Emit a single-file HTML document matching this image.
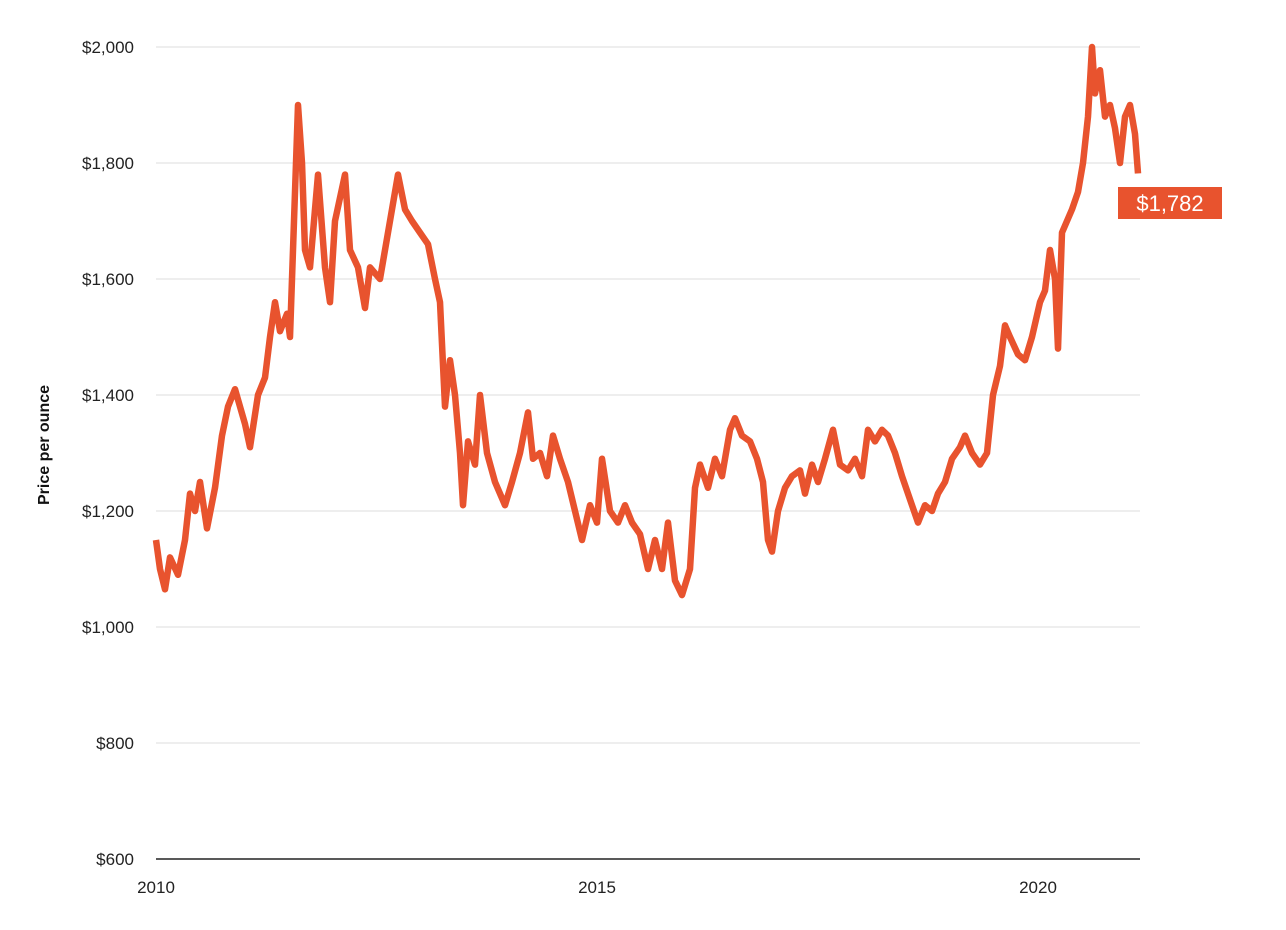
<!DOCTYPE html>
<html><head><meta charset="utf-8"><style>
body{margin:0;background:#fff;}
svg{display:block;font-family:"Liberation Sans",sans-serif;}
</style></head><body>
<svg width="1286" height="930" viewBox="0 0 1286 930">
<g stroke="#dddddd" stroke-width="1">
<line x1="156" x2="1140" y1="47" y2="47"/><line x1="156" x2="1140" y1="163" y2="163"/>
<line x1="156" x2="1140" y1="279" y2="279"/><line x1="156" x2="1140" y1="395" y2="395"/>
<line x1="156" x2="1140" y1="511" y2="511"/><line x1="156" x2="1140" y1="627" y2="627"/>
<line x1="156" x2="1140" y1="743" y2="743"/>
</g>
<line x1="156" x2="1140" y1="859" y2="859" stroke="#222" stroke-width="1.5"/>
<g font-size="17" fill="#222" text-anchor="end">
<text x="134" y="53">$2,000</text><text x="134" y="169">$1,800</text>
<text x="134" y="285">$1,600</text><text x="134" y="401">$1,400</text>
<text x="134" y="517">$1,200</text><text x="134" y="633">$1,000</text>
<text x="134" y="749">$800</text><text x="134" y="865">$600</text>
</g>
<g font-size="17" fill="#222" text-anchor="middle">
<text x="156" y="893">2010</text><text x="597" y="893">2015</text><text x="1038" y="893">2020</text>
</g>
<text transform="translate(49,445) rotate(-90)" font-size="16" font-weight="bold" text-anchor="middle" fill="#111">Price per ounce</text>
<g transform="translate(0,1207) scale(1,-0.58)">
<polyline fill="none" stroke="#e8532e" stroke-width="6.5" stroke-linejoin="round" vector-effect="non-scaling-stroke" points="156,1150 160,1100 165,1065 170,1120 178,1090 185,1150 190,1230 195,1200 200,1250 207,1170 215,1240 222,1330 228,1380 235,1410 245,1350 250,1310 258,1400 265,1430 270,1500 275,1560 280,1510 287,1540 290,1500 294,1700 298,1900 302,1800 305,1650 310,1620 318,1780 325,1620 330,1560 335,1700 345,1780 350,1650 358,1620 365,1550 370,1620 380,1600 390,1700 398,1780 405,1720 412,1700 420,1680 428,1660 435,1600 440,1560 445,1380 450,1460 455,1400 460,1300 463,1210 468,1320 475,1280 480,1400 487,1300 495,1250 505,1210 512,1250 520,1300 528,1370 533,1290 540,1300 547,1260 553,1330 560,1290 568,1250 575,1200 582,1150 590,1210 597,1180 602,1290 610,1200 618,1180 625,1210 632,1180 640,1160 648,1100 655,1150 662,1100 668,1180 675,1080 682,1055 690,1100 695,1240 700,1280 708,1240 715,1290 722,1260 730,1340 735,1360 742,1330 750,1320 757,1290 763,1250 768,1150 772,1130 778,1200 785,1240 792,1260 800,1270 805,1230 812,1280 818,1250 825,1290 833,1340 840,1280 848,1270 855,1290 862,1260 868,1340 875,1320 882,1340 888,1330 895,1300 902,1260 910,1220 918,1180 925,1210 932,1200 938,1230 945,1250 952,1290 960,1310 965,1330 972,1300 980,1280 987,1300 993,1400 1000,1450 1005,1520 1010,1500 1018,1470 1025,1460 1032,1500 1040,1560 1045,1580 1050,1650 1055,1600 1058,1480 1062,1680 1067,1700 1072,1720 1078,1750 1083,1800 1088,1880 1092,2000 1095,1920 1100,1960 1105,1880 1110,1900 1115,1860 1120,1800 1125,1880 1130,1900 1135,1850 1138,1782"/>
</g>
<rect x="1118" y="187" width="104" height="32" fill="#e8532e"/>
<text x="1170" y="211" font-size="22" fill="#fff" text-anchor="middle">$1,782</text>
</svg>
</body></html>
